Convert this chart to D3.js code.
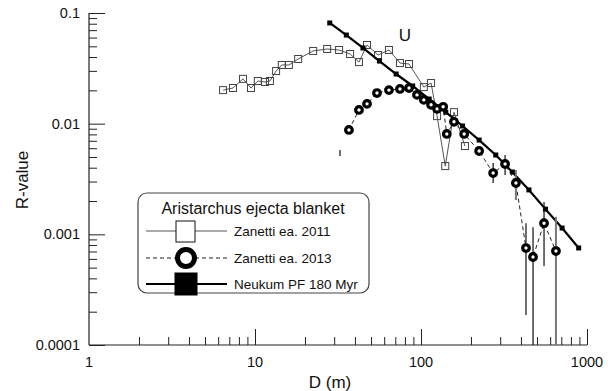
<!DOCTYPE html>
<html><head><meta charset="utf-8">
<script src="https://cdn.jsdelivr.net/npm/d3@7"></script>
<style>
html,body{margin:0;padding:0;background:#fff;}
svg text{font-family:Arial,"Liberation Sans",sans-serif;fill:#111;}
</style></head>
<body><svg id="c" width="608" height="391"></svg>
<script>
// ---- data ----
const xTicks = [1, 10, 100, 1000];
const xTickLabels = ["1", "10", "100", "1000"];
const yTicks = [0.0001, 0.001, 0.01, 0.1];
const yTickLabels = ["0.0001", "0.001", "0.01", "0.1"];

const zan11D = [6.42,7.37,8.47,9.46,10.4,11.5,12.3,13.4,14.5,16.0,18.2,22.4,27.2,32.1,37.4,42.3,47.3,55.1,64.1,74.7,84.7,104,115,125,140,158,184];
const zan11R = [0.0201,0.0210,0.0254,0.0210,0.0243,0.0238,0.0243,0.0299,0.0339,0.0339,0.0384,0.0454,0.0473,0.0463,0.0426,0.0360,0.0514,0.0417,0.0463,0.0353,0.0346,0.0214,0.0233,0.0117,0.00414,0.0127,0.00628];

const zan13D = [36.8,42.3,47.3,54.3,64.1,74.7,84.7,94.6,104,115,125,136,143,158,182,224,272,321,373,429,473,551,650];
const zan13R = [0.00877,0.0133,0.0151,0.0189,0.0201,0.0206,0.0210,0.0182,0.0164,0.0148,0.0136,0.0142,0.00807,0.0104,0.00807,0.00566,0.00358,0.00432,0.00291,0.000752,0.000624,0.00126,0.000706];

const errD  = [32.5, 272, 321, 373, 429, 473, 551, 650];
const errHi = [0.00578, 0.00442, 0.00521, 0.00381, 0.00126, 0.00116, 0.00196, 0.00144];
const errLo = [0.00510, 0.00291, 0.00343, 0.00204, 0.000187, 0.00005, 0.000518, 0.00005];

const neuD = [28.2,35.5,44.7,56.2,70.8,89.1,112,141,178,224,282,355,447,562,708,891];
const neuR = [0.0813,0.0632,0.0483,0.0368,0.0281,0.0219,0.0167,0.0127,0.00953,0.00711,0.00521,0.00366,0.00252,0.00169,0.00114,0.000753];

const legendTitle = "Aristarchus ejecta blanket";
const seriesNames = ["Zanetti ea. 2011", "Zanetti ea. 2013", "Neukum PF 180 Myr"];

// ---- chart ----
const svg = d3.select("#c");
const x = d3.scaleLog().domain([1, 1000]).range([89, 587]);
const y = d3.scaleLog().domain([0.0001, 0.1]).range([345, 13]);

svg.append("defs").append("clipPath").attr("id", "clip")
  .append("rect").attr("x", 89).attr("y", 0).attr("width", 520).attr("height", 345);

const axisCol = "#222";
svg.append("line").attr("x1", x(1)).attr("x2", x(1)).attr("y1", y(0.1)).attr("y2", y(0.0001)).attr("stroke", axisCol).attr("stroke-width", 1.2);
svg.append("line").attr("x1", x(1)).attr("x2", x(1000)).attr("y1", y(0.0001)).attr("y2", y(0.0001)).attr("stroke", axisCol).attr("stroke-width", 1.2);

const yAxis = d3.axisRight(y).tickValues(yTicks).tickSize(16).tickFormat("");
const gy = svg.append("g").attr("transform", `translate(${x(1)},0)`).call(yAxis);
gy.select(".domain").remove();
gy.selectAll("line").attr("stroke", axisCol);
const yMinor = [];
for (const d of [0.0001, 0.001, 0.01]) for (let k = 2; k <= 9; k++) yMinor.push(d * k);
const gym = svg.append("g").attr("transform", `translate(${x(1)},0)`).call(d3.axisRight(y).tickValues(yMinor).tickSize(8).tickFormat(""));
gym.select(".domain").remove();
gym.selectAll("line").attr("stroke", axisCol);

const gx = svg.append("g").attr("transform", `translate(0,${y(0.0001)})`).call(d3.axisTop(x).tickValues(xTicks.slice(1)).tickSize(16).tickFormat(""));
gx.select(".domain").remove();
gx.selectAll("line").attr("stroke", axisCol);
const xMinor = [];
for (const d of [1, 10, 100]) for (let k = 2; k <= 9; k++) xMinor.push(d * k);
const gxm = svg.append("g").attr("transform", `translate(0,${y(0.0001)})`).call(d3.axisTop(x).tickValues(xMinor).tickSize(8).tickFormat(""));
gxm.select(".domain").remove();
gxm.selectAll("line").attr("stroke", axisCol);

svg.selectAll(".yl").data(yTicks).enter().append("text")
  .attr("x", 80).attr("y", d => y(d) + 5).attr("text-anchor", "end")
  .attr("font-size", 14.5).text((d, i) => yTickLabels[i]);
svg.selectAll(".xl").data(xTicks).enter().append("text")
  .attr("x", d => x(d)).attr("y", 367).attr("text-anchor", "middle")
  .attr("font-size", 14.5).text((d, i) => xTickLabels[i]);

svg.append("text").attr("transform", "translate(28,180) rotate(-90)")
  .attr("text-anchor", "middle").attr("font-size", 17).text("R-value");
svg.append("text").attr("x", 330).attr("y", 388)
  .attr("text-anchor", "middle").attr("font-size", 17).text("D (m)");
svg.append("text").attr("x", 405).attr("y", 41)
  .attr("text-anchor", "middle").attr("font-size", 17).text("U");

const plot = svg.append("g").attr("clip-path", "url(#clip)");

const z11 = zan11D.map((d, i) => [d, zan11R[i]]);
const line = d3.line().x(d => x(d[0])).y(d => y(d[1]));
plot.append("path").datum(z11).attr("d", line).attr("fill", "none").attr("stroke", "#555").attr("stroke-width", 1);
plot.selectAll(".sq").data(z11).enter().append("rect")
  .attr("x", d => x(d[0]) - 3.5).attr("y", d => y(d[1]) - 3.5)
  .attr("width", 7).attr("height", 7).attr("fill", "none").attr("stroke", "#444").attr("stroke-width", 1);

const neu = neuD.map((d, i) => [d, neuR[i]]);
plot.append("path").datum(neu).attr("d", line).attr("fill", "none").attr("stroke", "#000").attr("stroke-width", 2.2);
plot.selectAll(".nm").data(neu).enter().append("rect")
  .attr("x", d => x(d[0]) - 2.5).attr("y", d => y(d[1]) - 2.5)
  .attr("width", 5).attr("height", 5).attr("fill", "#000");

const z13 = zan13D.map((d, i) => [d, zan13R[i]]);
plot.append("path").datum(z13).attr("d", line).attr("fill", "none").attr("stroke", "#222")
  .attr("stroke-width", 1).attr("stroke-dasharray", "4,3");
const grayErr = new Set([3, 7]);
plot.selectAll(".eb").data(errD).enter().append("line")
  .attr("x1", d => x(d)).attr("x2", d => x(d))
  .attr("y1", (d, i) => y(errHi[i])).attr("y2", (d, i) => y(errLo[i]))
  .attr("stroke", (d, i) => grayErr.has(i) ? "#777" : "#111")
  .attr("stroke-width", (d, i) => grayErr.has(i) ? 2 : 1.2);
plot.selectAll(".ci").data(z13).enter().append("circle")
  .attr("cx", d => x(d[0])).attr("cy", d => y(d[1])).attr("r", 3.3)
  .attr("fill", "#fff").attr("stroke", "#000").attr("stroke-width", 3.2);

const lg = svg.append("g");
lg.append("rect").attr("x", 138).attr("y", 193).attr("width", 231).attr("height", 100)
  .attr("rx", 9).attr("fill", "#fff").attr("stroke", "#444").attr("stroke-width", 1.2);
lg.append("text").attr("x", 253).attr("y", 214).attr("text-anchor", "middle")
  .attr("font-size", 16).text(legendTitle);
const ly = [231, 258, 284];
lg.append("line").attr("x1", 146).attr("x2", 227).attr("y1", ly[0]).attr("y2", ly[0]).attr("stroke", "#555").attr("stroke-width", 1);
lg.append("rect").attr("x", 176).attr("y", ly[0] - 10).attr("width", 19).attr("height", 21).attr("fill", "#fff").attr("stroke", "#111").attr("stroke-width", 1);
lg.append("line").attr("x1", 146).attr("x2", 227).attr("y1", ly[1]).attr("y2", ly[1]).attr("stroke", "#222").attr("stroke-width", 1).attr("stroke-dasharray", "4,3");
lg.append("circle").attr("cx", 186).attr("cy", ly[1]).attr("r", 8.5).attr("fill", "#fff").attr("stroke", "#000").attr("stroke-width", 5);
lg.append("line").attr("x1", 146).attr("x2", 227).attr("y1", ly[2]).attr("y2", ly[2]).attr("stroke", "#000").attr("stroke-width", 2);
lg.append("rect").attr("x", 174.5).attr("y", ly[2] - 11.5).attr("width", 23).attr("height", 23).attr("fill", "#000");
seriesNames.forEach((s, i) => {
  lg.append("text").attr("x", 234).attr("y", ly[i] + 5).attr("font-size", 13.5).text(s);
});
</script></body></html>
